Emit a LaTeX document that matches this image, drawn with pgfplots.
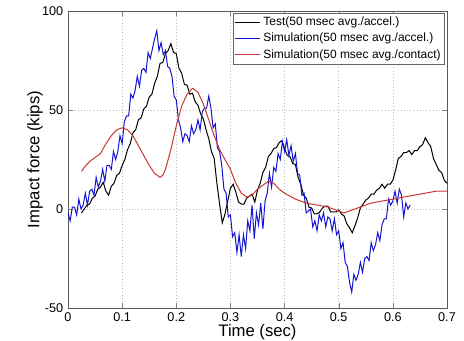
\documentclass[border=0pt]{standalone}
\usepackage{fontspec}
\setmainfont{Liberation Sans}
\usepackage{pgfplots}
\pgfplotsset{compat=1.18}
\definecolor{myblue}{RGB}{20,20,210}
\definecolor{myred}{RGB}{200,55,50}
\begin{document}
\begin{tikzpicture}
\begin{axis}[
  scale only axis, width=284.25pt, height=222.75pt,
  xmin=0, xmax=0.7, ymin=-50, ymax=100,
  xtick={0,0.1,0.2,0.3,0.4,0.5,0.6,0.7},
  xticklabels={0,0.1,0.2,0.3,0.4,0.5,0.6,0.7},
  ytick={-50,0,50,100},
  xtick pos=both, ytick pos=both, tick align=inside,
  major tick length=4pt,
  grid=major, grid style={dotted, gray!55},
  axis line style={gray!70!black},
  /pgf/number format/assume math mode=true,
  tick label style={font=\fontsize{9.5}{10}\selectfont},
  xlabel={Time (sec)}, ylabel={Impact force (kips)},
  label style={font=\fontsize{12.5}{13}\selectfont},
  xlabel style={at={(axis description cs:0.5,-0.081)}, anchor=center},
  ylabel style={at={(axis description cs:-0.087,0.5)}, anchor=center},
  legend style={at={(1,1)}, anchor=north east, xshift=-1.5pt, yshift=-1.5pt,
    font=\fontsize{9}{10}\selectfont, draw=gray!80!black, inner sep=1pt,
    cells={anchor=west}},
  legend image code/.code={\draw[#1] (0pt,0pt) -- (19pt,0pt);},
  every axis plot/.append style={line width=0.75pt},
]
\addplot[black] coordinates {
(0.025,-2)(0.030,0)(0.035,2)(0.040,2.5)(0.045,5.5)(0.050,6.5)(0.055,10)(0.060,11)(0.065,13.5)(0.070,9)(0.075,7)
(0.080,11.5)(0.085,13)(0.090,17)(0.095,18)(0.100,22)(0.105,25)(0.110,30)(0.115,33)(0.120,38.5)(0.125,40)
(0.130,45)(0.135,46)(0.140,50.5)(0.145,52)(0.150,56.5)(0.155,58)(0.160,63.5)(0.165,67)(0.170,73.5)(0.175,74)
(0.180,78.5)(0.185,80)(0.190,83.5)(0.195,79)(0.200,78.5)(0.205,71)(0.210,68.5)(0.215,63)(0.220,62.5)(0.225,58)
(0.230,58.5)(0.235,54)(0.240,52.5)(0.245,48)(0.250,45.5)(0.255,40)(0.260,35.5)(0.265,29)(0.270,25.5)(0.275,13)
(0.280,2.5)(0.285,-7)(0.290,-2.5)(0.295,4)(0.300,10.5)(0.305,12.5)(0.310,8.5)(0.315,3.5)(0.320,2.5)(0.325,2.5)
(0.330,5.5)(0.335,6.5)(0.340,7.5)(0.345,3.5)(0.350,9.5)(0.355,13)(0.360,18.5)(0.365,21)(0.370,26.5)(0.375,28)
(0.380,30.5)(0.385,31)(0.390,33.5)(0.395,34.5)(0.400,30.5)(0.405,27)(0.410,26.5)(0.415,23)(0.420,22.5)(0.425,16)
(0.430,12.5)(0.435,7)(0.440,5.5)(0.445,1)(0.450,0.5)(0.455,-2.5)(0.460,-2.5)(0.465,-1.5)(0.470,0.5)(0.475,1.5)
(0.480,1.5)(0.485,-1.5)(0.490,-1.5)(0.495,-1.5)(0.500,-0.5)(0.505,-2.5)(0.510,-3.5)(0.515,-7.5)(0.520,-9.5)(0.525,-12)
(0.530,-8.5)(0.535,-4.5)(0.540,0.5)(0.545,2.5)(0.550,4.5)(0.555,5.5)(0.560,7.5)(0.565,7.5)(0.570,9.5)(0.575,10.5)
(0.580,12.5)(0.585,10.5)(0.590,12.5)(0.595,12.5)(0.600,14.5)(0.605,19.5)(0.610,25.5)(0.615,26.5)(0.620,28.5)(0.625,28.5)
(0.630,29.5)(0.635,27.5)(0.640,29.5)(0.645,29.5)(0.650,31.5)(0.655,32.5)(0.660,36)(0.665,33.5)(0.670,31.5)(0.675,25.5)
(0.680,22.5)(0.685,19.5)(0.690,18.5)(0.695,14.5)(0.700,13)
};
\addlegendentry{Test(50 msec avg./accel.)}
\addplot[myblue] coordinates {
(0.000,-2)(0.004,-6)(0.008,1)(0.012,1)(0.016,-3)(0.020,5)(0.024,0)(0.028,2)(0.032,8)(0.036,2)
(0.040,9)(0.044,10)(0.048,7)(0.052,16)(0.056,11)(0.060,14)(0.064,20)(0.068,14)(0.072,22)(0.076,22)
(0.080,20)(0.084,29)(0.088,25)(0.092,29)(0.096,37)(0.100,33)(0.104,44)(0.108,47)(0.112,47)(0.116,58)
(0.120,56)(0.124,60)(0.128,67)(0.132,62)(0.136,70)(0.140,71)(0.144,69)(0.148,79)(0.152,76)(0.156,81)
(0.160,86)(0.164,90)(0.168,80)(0.172,84)(0.176,78)(0.180,80)(0.184,72)(0.188,71)(0.192,67)(0.196,57)
(0.200,55)(0.204,45)(0.208,41)(0.212,34)(0.216,38)(0.220,37)(0.224,34)(0.228,42)(0.232,38)(0.236,40)
(0.240,45)(0.244,40)(0.248,49)(0.252,51)(0.256,51)(0.260,57)(0.264,51)(0.268,41)(0.272,43)(0.276,31)
(0.280,29)(0.284,22)(0.288,10)(0.292,8)(0.296,-4)(0.300,-3)(0.304,-14)(0.308,-12)(0.312,-22)(0.316,-13)
(0.320,-24)(0.324,-13)(0.328,-20)(0.332,-6)(0.336,-11)(0.340,2)(0.344,-15)(0.348,-2)(0.352,-8)(0.356,3)
(0.360,-10)(0.364,4)(0.368,8)(0.372,18)(0.376,11)(0.380,21)(0.384,19)(0.388,28)(0.392,25)(0.396,34)
(0.400,29)(0.404,35)(0.408,27)(0.412,32)(0.416,24)(0.420,28)(0.424,18)(0.428,17)(0.432,7)(0.436,8)
(0.440,-2)(0.444,-1)(0.448,0)(0.452,-9)(0.456,-6)(0.460,-11)(0.464,-3)(0.468,-6)(0.472,-2)(0.476,-9)
(0.480,-4)(0.484,-5)(0.488,-11)(0.492,-5)(0.496,-13)(0.500,-11)(0.504,-20)(0.508,-17)(0.512,-27)(0.516,-29)
(0.520,-37)(0.524,-42)(0.528,-33)(0.532,-36)(0.536,-33)(0.540,-27)(0.544,-32)(0.548,-25)(0.552,-24)(0.556,-26)
(0.560,-17)(0.564,-21)(0.568,-18)(0.572,-12)(0.576,-16)(0.580,-8)(0.584,-5)(0.588,-5)(0.592,5)(0.596,2)
(0.600,4)(0.604,9)(0.608,3)(0.612,10)(0.616,7)(0.620,-4)(0.624,3)(0.628,0)(0.632,2)
};
\addlegendentry{Simulation(50 msec avg./accel.)}
\addplot[myred] coordinates {
(0.025,19)(0.030,21)(0.040,24)(0.050,26)(0.060,28)(0.070,33)(0.080,37)(0.090,40)(0.100,41)(0.110,40)
(0.120,37)(0.130,32)(0.140,27)(0.150,22)(0.160,18)(0.170,16)(0.175,17)(0.180,20)(0.190,30)(0.200,42)
(0.210,52)(0.220,58)(0.230,61)(0.240,59)(0.250,53)(0.260,45)(0.270,37)(0.280,30)(0.290,25)(0.300,20)
(0.310,13)(0.320,8)(0.330,6)(0.340,7)(0.350,10)(0.360,12)(0.370,14)(0.380,13)(0.390,10)(0.400,8)
(0.420,5)(0.440,3)(0.460,2)(0.480,1)(0.500,-1)(0.510,-2)(0.520,-1)(0.540,1)(0.560,3)(0.580,4)
(0.600,5)(0.620,6)(0.640,7)(0.660,8)(0.680,9)(0.700,9)
};
\addlegendentry{Simulation(50 msec avg./contact)}
\coordinate (ll) at (rel axis cs:0,0);
\coordinate (ur) at (rel axis cs:1,1);
\end{axis}
\pgfresetboundingbox
\path[use as bounding box] ([shift={(-51pt,-24.75pt)}]ll) rectangle ([shift={(12.75pt,8.25pt)}]ur);
\end{tikzpicture}
\end{document}
